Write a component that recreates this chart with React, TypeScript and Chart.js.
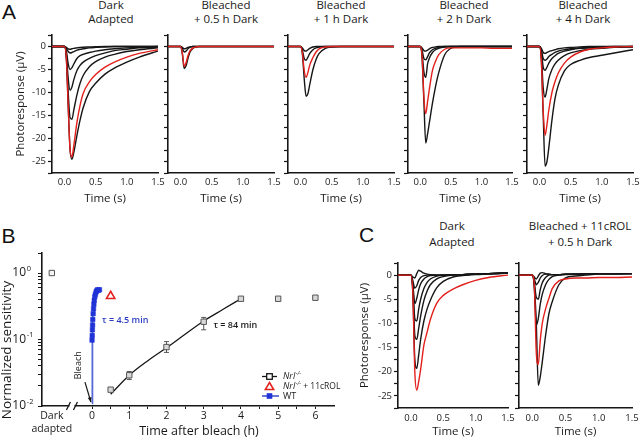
import React, { useEffect, useRef } from "react";
import { Chart, registerables } from "chart.js";

Chart.register(...registerables);

const FONT = "'Open Sans', 'DejaVu Sans', sans-serif";
const BLACK = "#161616";
const RED = "#e3201c";
const BLUE_LINE = "#5568d4";
const BLUE_PT = "#1f33d6";

// ---------- traces (time grid in s, responses in µV) ----------
const T = [-0.2, 0, 0.03, 0.06, 0.09, 0.12, 0.15, 0.2, 0.25, 0.3, 0.4, 0.5, 0.65, 0.8, 1.0, 1.2, 1.5];
const X_TICKS = [0, 0.5, 1, 1.5];

const A1_K1 = [0, 0, -0.2, -0.5, -0.6, -0.5, -0.4, -0.3, -0.2, -0.15, -0.1, -0.05, 0, 0, 0, 0, 0];
const A1_K2 = [0, 0, -0.4, -1.1, -1.4, -1.3, -1.1, -0.8, -0.6, -0.5, -0.3, -0.2, -0.1, 0, 0, 0, 0];
const A1_K3 = [0, 0, -1, -3.8, -5, -4.6, -3.8, -2.6, -2.0, -1.7, -1.3, -1.0, -0.7, -0.5, -0.3, -0.15, 0];
const A1_K4 = [0, 0, -1.5, -7, -9.5, -8.8, -7.2, -5.2, -4.1, -3.4, -2.6, -2.0, -1.4, -0.9, -0.6, -0.3, -0.1];
const A1_K5 = [0, 0, -2, -10, -15.5, -15.8, -13.8, -10.5, -8, -6.3, -4.4, -3.3, -2.3, -1.7, -1.1, -0.7, -0.3];
const A1_K6 = [0, 0, -2.5, -13, -22.5, -24.5, -23, -19.3, -16, -13.3, -9.8, -8, -6, -4.7, -3.4, -2.3, -1.0];
const A1_RED = [0, 0, -2.5, -13, -22.5, -24, -21.5, -16.5, -12.8, -10.2, -7.7, -6.1, -4.5, -3.4, -2.3, -1.5, -0.7];

const A2_K1 = [0, 0, -0.2, -0.5, -0.4, -0.2, -0.1, 0, 0, 0, 0, 0, 0, 0, 0, 0, 0];
const A2_K2 = [0, 0, -0.4, -1.2, -1.0, -0.5, -0.2, 0, 0, 0, 0, 0, 0, 0, 0, 0, 0];
const A2_K3 = [0, 0, -1.6, -4.8, -4.2, -2.6, -1.3, -0.4, -0.1, 0, 0, 0, 0, 0, 0, 0, 0];
const A2_RED = [0, 0, -1.4, -4.3, -3.5, -2.0, -1.0, -0.3, -0.1, 0, 0, 0, 0, 0, 0, 0, 0];

const A3_K1 = [0, 0, -0.3, -0.9, -1.0, -0.7, -0.4, -0.1, 0, 0, 0, 0, 0, 0, 0, 0, 0];
const A3_K2 = [0, 0, -0.8, -2.6, -3.0, -2.3, -1.5, -0.7, -0.3, -0.1, 0, 0, 0, 0, 0, 0, 0];
const A3_K3 = [0, 0, -1.5, -7, -10.8, -10.2, -8.2, -5, -2.8, -1.5, -0.4, -0.1, 0, 0, 0, 0, 0];
const A3_RED = [0, 0, -1.3, -5.2, -6.7, -5.6, -4, -2.4, -1.2, -0.5, -0.1, 0, 0, 0, 0, 0, 0];

const A4_K1 = [0, 0, -0.3, -0.9, -1, -0.8, -0.5, -0.2, -0.1, 0, 0, 0, 0, 0, 0, 0, 0];
const A4_K2 = [0, 0, -0.8, -2.6, -2.9, -2.2, -1.4, -0.7, -0.4, -0.2, 0, 0, 0, 0, 0, 0, 0];
const A4_K3 = [0, 0, -1.5, -5.5, -6.7, -3.8, -2.5, -1.3, -0.7, -0.4, -0.1, 0, 0, 0, 0, 0, 0];
const A4_K4 = [0, 0, -2.5, -12, -21, -19, -16.5, -12.3, -8.7, -5.8, -1.8, -0.4, 0, 0, 0, 0, 0];
const A4_RED = [0, 0, -2, -11, -14.6, -12, -9.2, -5.2, -3.2, -1.8, -0.6, -0.3, -0.3, -0.3, -0.3, -0.4, -0.4];

const A5_K1 = [0, 0, -0.4, -1.3, -1.5, -1.3, -1.1, -0.9, -0.7, -0.5, -0.3, -0.2, -0.1, 0, 0, 0, 0];
const A5_K2 = [0, 0, -0.8, -2.6, -3, -2.7, -2.2, -1.7, -1.3, -1, -0.7, -0.5, -0.3, -0.2, -0.1, 0, 0];
const A5_K3 = [0, 0, -1.2, -4.5, -5.2, -4.5, -3.6, -2.6, -2, -1.5, -1, -0.7, -0.4, -0.3, -0.2, -0.1, 0];
const A5_K4 = [0, 0, -2, -9, -11, -9.2, -7, -5, -3.8, -3, -2, -1.4, -0.9, -0.6, -0.4, -0.2, -0.1];
const A5_K5 = [0, 0, -3, -15, -26, -25, -22, -16, -11.3, -8.5, -5.3, -3.9, -3, -2.4, -1.9, -1.4, -0.7];
const A5_RED = [0, 0, -3, -14, -19.3, -17, -13.8, -10, -7.6, -5.8, -3.6, -2.3, -1.2, -0.6, -0.3, -0.1, 0];

const C1_K0 = [0, 0, -0.4, -0.6, 0.3, 1.0, 0.8, 0.4, 0.2, 0.1, 0, 0, 0.1, 0.1, 0.2, 0.3, 0.4];
const C1_K1 = [0, 0, -1.2, -2.7, -2.2, -1.1, -0.5, -0.1, 0, 0, 0, 0, 0.1, 0.1, 0.2, 0.3, 0.4];
const C1_K2 = [0, 0, -2, -5.9, -4.8, -3, -1.8, -0.8, -0.3, -0.1, 0, 0, 0.1, 0.1, 0.2, 0.3, 0.4];
const C1_K3 = [0, 0, -2.5, -9, -9.5, -7, -5, -2.8, -1.5, -0.8, -0.2, 0, 0.1, 0.1, 0.2, 0.3, 0.4];
const C1_K4 = [0, 0, -3, -12.5, -13.3, -11, -8.5, -5.3, -3.3, -2, -0.8, -0.3, 0, 0.1, 0.2, 0.3, 0.4];
const C1_K5 = [0, 0, -4, -17.5, -19.3, -16.5, -13.3, -9.5, -7, -5.2, -2.6, -1.3, -0.4, -0.1, 0.1, 0.2, 0.4];
const C1_RED = [0, 0, -4, -20, -23.8, -22, -19.5, -14.5, -11.8, -9.2, -5.8, -4.2, -2.9, -2.0, -1.1, -0.5, 0];

const C2_K0 = [0, 0, -0.4, -0.8, -0.2, 0.4, 0.5, 0.3, 0.2, 0.1, 0.1, 0.2, 0.2, 0.3, 0.3, 0.3, 0.3];
const C2_K1 = [0, 0, -0.8, -2, -1.5, -0.6, -0.1, 0.2, 0.2, 0.1, 0.1, 0.2, 0.2, 0.3, 0.3, 0.3, 0.3];
const C2_K2 = [0, 0, -1.5, -4.6, -5, -3, -1.6, -0.5, 0, 0.1, 0.1, 0.2, 0.2, 0.3, 0.3, 0.3, 0.3];
const C2_K3 = [0, 0, -2.5, -10.4, -9, -6, -4, -2, -0.9, -0.3, 0, 0.1, 0.2, 0.2, 0.3, 0.3, 0.3];
const C2_K4 = [0, 0, -2, -10, -22.8, -21, -18, -12.5, -8, -5.5, -2, -0.6, -0.2, 0, 0.2, 0.2, 0.3];
const C2_RED = [0, 0, -2, -16, -18.5, -13.5, -10, -7, -4.8, -2.8, -1.2, -0.8, -0.6, -0.6, -0.5, -0.5, -0.4];

// ---------- panel B (time after bleach in h, normalized sensitivity) ----------
const DARK_X = -1.08;
const DARK_Y = [1.0];
const NRL_X = [0.5, 1, 2, 3, 4, 5, 6];
const NRL_Y = [0.0176, 0.029, 0.077, 0.185, 0.41, 0.41, 0.425];
const NRL_ERR_LO = [0.0168, 0.025, 0.064, 0.14, 0.4, 0.4, 0.415];
const NRL_ERR_HI = [0.0185, 0.033, 0.093, 0.215, 0.42, 0.42, 0.435];
const NRL_FIT_X = [0.5, 1, 1.5, 2, 2.5, 3, 3.5, 4];
const NRL_FIT_Y = [0.015, 0.029, 0.048, 0.075, 0.12, 0.19, 0.28, 0.41];
const ROL_X = [0.5];
const ROL_Y = [0.45];
const WT_X = [0, 0, 0.005, 0.01, 0.015, 0.02, 0.03, 0.04, 0.05, 0.06, 0.075, 0.09, 0.11, 0.13, 0.15, 0.17, 0.2];
const WT_Y = [0.011, 0.098, 0.115, 0.14, 0.165, 0.2, 0.245, 0.29, 0.34, 0.39, 0.44, 0.48, 0.52, 0.54, 0.56, 0.55, 0.56];
const B_X_TICKS = [DARK_X, 0, 0.5, 1, 1.5, 2, 2.5, 3, 3.5, 4, 4.5, 5, 5.5, 6];
const DARK_LABEL = ["Dark", "adapted"];
const B_Y_TICKS = [0.01, 0.02, 0.03, 0.04, 0.05, 0.06, 0.07, 0.08, 0.09, 0.1, 0.2, 0.3, 0.4, 0.5, 0.6, 0.7, 0.8, 0.9, 1, 2];
const B_Y_MAJOR = [0.01, 0.1, 1];
const B_Y_EXP = ["-2", "-1", "0"];
const LEGEND_LABELS = ["Nrl", "Nrl", "WT"];
const LEGEND_SUFFIX = ["", " + 11cROL", ""];

const xy = (xs: number[], ys: number[]) => xs.map((x, i) => ({ x, y: ys[i] }));

type PanelProps = {
  left: number; top: number; width: number; height: number;
  area: [number, number, number, number];
  blacks: number[][]; red: number[];
  yLabels: boolean; yTitlePad: number; xTickPad: number; xTitlePad: number;
};

function TracePanel(p: PanelProps) {
  const ref = useRef<HTMLCanvasElement>(null);
  useEffect(() => {
    const [al, at, ar, ab] = p.area;
    const line = (vals: number[], color: string) => ({
      data: xy(T, vals), borderColor: color, borderWidth: 1.4, pointRadius: 0,
      cubicInterpolationMode: "monotone", fill: false,
    });
    const chart = new Chart(ref.current as HTMLCanvasElement, {
      type: "line",
      data: { datasets: [line(p.red, RED), ...p.blacks.map((b) => line(b, BLACK))] as any },
      options: {
        responsive: false, animation: false, events: [],
        layout: { padding: { left: 0, top: at - p.top, right: p.left + p.width - ar, bottom: 0 } },
        plugins: { legend: { display: false }, tooltip: { enabled: false } },
        scales: {
          x: {
            type: "linear", min: -0.2, max: 1.5,
            afterBuildTicks: (s: any) => { s.ticks = X_TICKS.map((v) => ({ value: v })); },
            ticks: { autoSkip: false, maxRotation: 0, padding: p.xTickPad, color: "#1a1a1a",
              font: { family: FONT, size: 9.5 }, callback: (v: any) => Number(v).toFixed(1) },
            grid: { display: false, drawTicks: false },
            border: { display: true, color: BLACK, width: 1.6 },
            title: { display: true, text: "Time (s)", color: "#1a1a1a", font: { family: FONT, size: 11.5 },
              padding: { top: 0, bottom: p.xTitlePad } },
            afterFit: (s: any) => { s.height = p.top + p.height - ab; s.paddingLeft = 0; s.paddingRight = 0; },
          } as any,
          y: {
            type: "linear", min: -27.5, max: 2.5,
            ticks: { stepSize: 2.5, autoSkip: false, padding: 2, color: "#1a1a1a", font: { family: FONT, size: 9.5 },
              callback: (v: any) => (p.yLabels && Math.abs(Number(v) % 5) < 1e-9 ? String(Number(v)) : "") },
            grid: { display: true, drawOnChartArea: false, drawTicks: true, tickLength: 4, color: BLACK, tickWidth: 1.2 },
            border: { display: true, color: BLACK, width: 1.6 },
            title: { display: p.yLabels, text: "Photoresponse (\u00B5V)", color: "#1a1a1a",
              font: { family: FONT, size: 11.5 }, padding: { top: p.yTitlePad, bottom: 0 } },
            afterFit: (s: any) => { s.width = al - p.left; s.paddingTop = 0; s.paddingBottom = 0; },
          } as any,
        },
      },
    });
    return () => chart.destroy();
  }, []);
  return <canvas ref={ref} width={p.width} height={p.height} style={{ position: "absolute", left: p.left, top: p.top }} />;
}

const BREAK_X = -0.54;
const Y_LABEL_PAD = 12;

const bPlugin = {
  id: "panelBAnnotations",
  beforeDatasetsDraw(chart: any) {
    const { ctx, scales } = chart;
    const x = scales.x, y = scales.y;
    ctx.save();
    ctx.strokeStyle = "#555";
    ctx.lineWidth = 1;
    NRL_X.forEach((xv, i) => {
      const px = x.getPixelForValue(xv);
      const p1 = y.getPixelForValue(NRL_ERR_LO[i]);
      const p2 = y.getPixelForValue(NRL_ERR_HI[i]);
      ctx.beginPath();
      ctx.moveTo(px, p1); ctx.lineTo(px, p2);
      ctx.moveTo(px - 2.5, p1); ctx.lineTo(px + 2.5, p1);
      ctx.moveTo(px - 2.5, p2); ctx.lineTo(px + 2.5, p2);
      ctx.stroke();
    });
    ctx.restore();
  },
  afterDraw(chart: any) {
    const { ctx, scales, chartArea: ca } = chart;
    const x = scales.x, y = scales.y;
    ctx.save();
    // exponents of the y tick labels
    ctx.fillStyle = "#1a1a1a";
    ctx.textAlign = "left"; ctx.textBaseline = "middle";
    ctx.font = `7.5px ${FONT}`;
    B_Y_MAJOR.forEach((v, i) => {
      ctx.fillText(B_Y_EXP[i], ca.left - 4 - Y_LABEL_PAD + 0.8, y.getPixelForValue(v) - 4.5);
    });

    // axis break
    const bx = x.getPixelForValue(BREAK_X);
    ctx.fillStyle = "#fff";
    ctx.fillRect(bx - 2.5, ca.bottom - 2, 5, 4);
    ctx.strokeStyle = BLACK; ctx.lineWidth = 1.3;
    ctx.beginPath();
    ctx.moveTo(bx - 5.5, ca.bottom + 4); ctx.lineTo(bx - 1.5, ca.bottom - 4);
    ctx.moveTo(bx + 1.5, ca.bottom + 4); ctx.lineTo(bx + 5.5, ca.bottom - 4);
    ctx.stroke();

    // tau labels
    ctx.textBaseline = "middle"; ctx.textAlign = "left";
    ctx.fillStyle = "#2b3cc4";
    ctx.font = `600 9px ${FONT}`;
    ctx.fillText("\u03C4 = 4.5 min", x.getPixelForValue(0.27), y.getPixelForValue(0.196));
    ctx.fillStyle = "#1a1a1a";
    ctx.fillText("\u03C4 = 84 min", x.getPixelForValue(3.26), y.getPixelForValue(0.16));

    // Bleach label + arrow
    ctx.save();
    ctx.translate(x.getPixelForValue(-0.377), y.getPixelForValue(0.041));
    ctx.rotate(-Math.PI / 2);
    ctx.textAlign = "center";
    ctx.font = `9px ${FONT}`;
    ctx.fillText("Bleach", 0, 0);
    ctx.restore();
    const ax0 = x.getPixelForValue(-0.19), ay0 = y.getPixelForValue(0.0229);
    const ax1 = x.getPixelForValue(-0.03), ay1 = y.getPixelForValue(0.0115);
    ctx.strokeStyle = BLACK; ctx.lineWidth = 1.2;
    ctx.beginPath(); ctx.moveTo(ax0, ay0); ctx.lineTo(ax1, ay1); ctx.stroke();
    const ang = Math.atan2(ay1 - ay0, ax1 - ax0);
    ctx.fillStyle = BLACK;
    ctx.beginPath();
    ctx.moveTo(ax1, ay1);
    ctx.lineTo(ax1 - 5 * Math.cos(ang - 0.4), ay1 - 5 * Math.sin(ang - 0.4));
    ctx.lineTo(ax1 - 5 * Math.cos(ang + 0.4), ay1 - 5 * Math.sin(ang + 0.4));
    ctx.closePath(); ctx.fill();

    // axis titles
    ctx.fillStyle = "#1a1a1a";
    ctx.textAlign = "center";
    ctx.font = `12.5px ${FONT}`;
    ctx.fillText("Time after bleach (h)", 199, 186);
    ctx.save();
    ctx.translate(7.5, 105);
    ctx.rotate(-Math.PI / 2);
    ctx.font = `13.5px ${FONT}`;
    ctx.fillText("Normalized sensitivity", 0, 0);
    ctx.restore();

    // legend
    const lx0 = ca.right - 72, lx1 = ca.right - 57, mx = ca.right - 64.5, tx = ca.right - 51;
    const rows = [ca.bottom - 29.5, ca.bottom - 19.5, ca.bottom - 10];
    ctx.lineWidth = 1.3;
    ctx.strokeStyle = BLACK;
    ctx.beginPath(); ctx.moveTo(lx0, rows[0]); ctx.lineTo(lx1, rows[0]); ctx.stroke();
    ctx.fillStyle = "#fff";
    ctx.fillRect(mx - 2.8, rows[0] - 2.8, 5.6, 5.6);
    ctx.strokeRect(mx - 2.8, rows[0] - 2.8, 5.6, 5.6);
    ctx.strokeStyle = RED; ctx.lineWidth = 1.5;
    ctx.beginPath();
    ctx.moveTo(mx, rows[1] - 4); ctx.lineTo(mx + 4.2, rows[1] + 3); ctx.lineTo(mx - 4.2, rows[1] + 3); ctx.closePath();
    ctx.stroke();
    ctx.strokeStyle = BLUE_LINE; ctx.lineWidth = 1.8;
    ctx.beginPath(); ctx.moveTo(lx0, rows[2]); ctx.lineTo(lx1 + 2, rows[2]); ctx.stroke();
    ctx.fillStyle = BLUE_PT;
    ctx.fillRect(mx - 2.8, rows[2] - 2.8, 5.6, 5.6);
    ctx.fillStyle = "#1a1a1a";
    ctx.textAlign = "left";
    LEGEND_LABELS.forEach((lab, i) => {
      const ry = rows[i];
      if (lab === "WT") {
        ctx.font = `9px ${FONT}`;
        ctx.fillText(lab, tx, ry);
        return;
      }
      ctx.font = `italic 9px ${FONT}`;
      ctx.fillText(lab, tx, ry);
      let w = ctx.measureText(lab).width;
      ctx.font = `italic 5.5px ${FONT}`;
      ctx.fillText("-/-", tx + w + 0.5, ry - 3);
      w += ctx.measureText("-/-").width + 0.5;
      if (LEGEND_SUFFIX[i]) {
        ctx.font = `8.5px ${FONT}`;
        ctx.fillText(LEGEND_SUFFIX[i], tx + w, ry);
      }
    });
    ctx.restore();
  },
};

function PanelB() {
  const ref = useRef<HTMLCanvasElement>(null);
  useEffect(() => {
    const L = 0, TOP = 245, W = 345, H = 194;
    const chart = new Chart(ref.current as HTMLCanvasElement, {
      type: "line",
      data: {
        datasets: [
          { data: xy(WT_X, WT_Y), borderColor: BLUE_LINE, borderWidth: 1.8, pointStyle: "rect",
            pointRadius: (c: any) => (c.dataIndex === 0 ? 0 : 3.2), pointBackgroundColor: BLUE_PT,
            pointBorderColor: BLUE_PT, pointBorderWidth: 0.5, fill: false },
          { data: xy(ROL_X, ROL_Y), showLine: false, pointStyle: "triangle", pointRadius: 4.8,
            pointBorderColor: RED, pointBackgroundColor: "#fff", pointBorderWidth: 1.6 },
          { data: xy(NRL_X, NRL_Y), showLine: false, pointStyle: "rect", pointRadius: 3.8,
            pointBorderColor: "#555", pointBackgroundColor: "#d8d8d8", pointBorderWidth: 1 },
          { data: xy([DARK_X], DARK_Y), showLine: false, pointStyle: "rect", pointRadius: 3.8,
            pointBorderColor: "#555", pointBackgroundColor: "#f4f4f4", pointBorderWidth: 1 },
          { data: xy(NRL_FIT_X, NRL_FIT_Y), borderColor: BLACK, borderWidth: 1.3, pointRadius: 0,
            cubicInterpolationMode: "monotone", fill: false },
        ] as any,
      },
      options: {
        responsive: false, animation: false, events: [],
        layout: { padding: { left: 0, top: 253 - TOP, right: L + W - 334, bottom: 0 } },
        plugins: { legend: { display: false }, tooltip: { enabled: false } },
        scales: {
          x: {
            type: "linear", min: -1.344, max: 6.5,
            afterBuildTicks: (s: any) => { s.ticks = B_X_TICKS.map((v) => ({ value: v })); },
            ticks: { autoSkip: false, maxRotation: 0, padding: 0, color: "#1a1a1a",
              font: { family: FONT, size: 10.5, lineHeight: 1.25 },
              callback: (v: any) => (v === DARK_X ? DARK_LABEL : Number.isInteger(v) ? String(v) : "") },
            grid: { display: true, drawOnChartArea: false, tickLength: 3,
              tickColor: (c: any) => (c.tick && c.tick.value === DARK_X ? "rgba(0,0,0,0)" : BLACK) },
            border: { display: true, color: BLACK, width: 1.6 },
            afterFit: (s: any) => { s.height = TOP + H - 406; s.paddingLeft = 0; s.paddingRight = 0; },
          } as any,
          y: {
            type: "logarithmic", min: 0.01, max: 2,
            afterBuildTicks: (s: any) => { s.ticks = B_Y_TICKS.map((v) => ({ value: v })); },
            ticks: { autoSkip: false, padding: Y_LABEL_PAD, color: "#1a1a1a", font: { family: FONT, size: 12 },
              callback: (v: any) => (B_Y_MAJOR.indexOf(Number(v)) >= 0 ? "10" : "") },
            grid: { display: true, drawOnChartArea: false, tickLength: 4, color: BLACK },
            border: { display: true, color: BLACK, width: 1.6 },
            afterFit: (s: any) => { s.width = 42 - L; s.paddingTop = 0; s.paddingBottom = 0; },
          } as any,
        },
      },
      plugins: [bPlugin],
    });
    return () => chart.destroy();
  }, []);
  return <canvas ref={ref} width={345} height={194} style={{ position: "absolute", left: 0, top: 245 }} />;
}

function Title({ cx, top, lines, lh }: { cx: number; top: number; lines: string[]; lh: number }) {
  return (
    <div style={{ position: "absolute", left: cx - 100, top, width: 200, textAlign: "center",
      fontFamily: FONT, fontSize: 11.5, lineHeight: `${lh}px`, color: "#1a1a1a", whiteSpace: "nowrap" }}>
      {lines.map((l, i) => <div key={i}>{l}</div>)}
    </div>
  );
}

function Letter({ x, y, ch }: { x: number; y: number; ch: string }) {
  return (
    <div style={{ position: "absolute", left: x, top: y, fontFamily: "'Liberation Sans', Arial, sans-serif",
      fontSize: 21, lineHeight: "21px", color: "#111" }}>{ch}</div>
  );
}

export default function App() {
  const aTop = 0, aH = 208;
  return (
    <div style={{ position: "absolute", left: 0, top: 0, width: 640, height: 439, background: "#fff", overflow: "hidden" }}>
      <Letter x={2} y={1} ch="A" />
      <Letter x={1.5} y={225} ch="B" />
      <Letter x={359} y={224} ch="C" />

      <Title cx={111} top={-2} lh={14} lines={["Dark", "Adapted"]} />
      <Title cx={226} top={-2} lh={14} lines={["Bleached", "+ 0.5 h Dark"]} />
      <Title cx={341} top={-2} lh={14} lines={["Bleached", "+ 1 h Dark"]} />
      <Title cx={464} top={-2} lh={14} lines={["Bleached", "+ 2 h Dark"]} />
      <Title cx={583} top={-2} lh={14} lines={["Bleached", "+ 4 h Dark"]} />
      <Title cx={452} top={218} lh={16} lines={["Dark", "Adapted"]} />
      <Title cx={580} top={218} lh={16} lines={["Bleached + 11cROL", "+ 0.5 h Dark"]} />

      <TracePanel left={0} top={aTop} width={168} height={aH} area={[52, 35, 158, 173]}
        blacks={[A1_K1, A1_K2, A1_K3, A1_K4, A1_K5, A1_K6]} red={A1_RED}
        yLabels={true} yTitlePad={14} xTickPad={4} xTitlePad={2} />
      <TracePanel left={156} top={aTop} width={126} height={aH} area={[168, 35, 274, 173]}
        blacks={[A2_K1, A2_K2, A2_K3]} red={A2_RED}
        yLabels={false} yTitlePad={0} xTickPad={4} xTitlePad={2} />
      <TracePanel left={276} top={aTop} width={126} height={aH} area={[288, 35, 394, 173]}
        blacks={[A3_K1, A3_K2, A3_K3]} red={A3_RED}
        yLabels={false} yTitlePad={0} xTickPad={4} xTitlePad={2} />
      <TracePanel left={396} top={aTop} width={124} height={aH} area={[408, 35, 512, 173]}
        blacks={[A4_K1, A4_K2, A4_K3, A4_K4]} red={A4_RED}
        yLabels={false} yTitlePad={0} xTickPad={4} xTitlePad={2} />
      <TracePanel left={515} top={aTop} width={125} height={aH} area={[527, 35, 633, 173]}
        blacks={[A5_K1, A5_K2, A5_K3, A5_K4, A5_K5]} red={A5_RED}
        yLabels={false} yTitlePad={0} xTickPad={4} xTitlePad={2} />

      <PanelB />

      <TracePanel left={350} top={240} width={166} height={199} area={[398, 263, 508, 408]}
        blacks={[C1_K0, C1_K1, C1_K2, C1_K3, C1_K4, C1_K5]} red={C1_RED}
        yLabels={true} yTitlePad={8} xTickPad={5} xTitlePad={0} />
      <TracePanel left={508} top={240} width={132} height={199} area={[519, 263, 632, 408]}
        blacks={[C2_K0, C2_K1, C2_K2, C2_K3, C2_K4]} red={C2_RED}
        yLabels={false} yTitlePad={0} xTickPad={5} xTitlePad={0} />
    </div>
  );
}
